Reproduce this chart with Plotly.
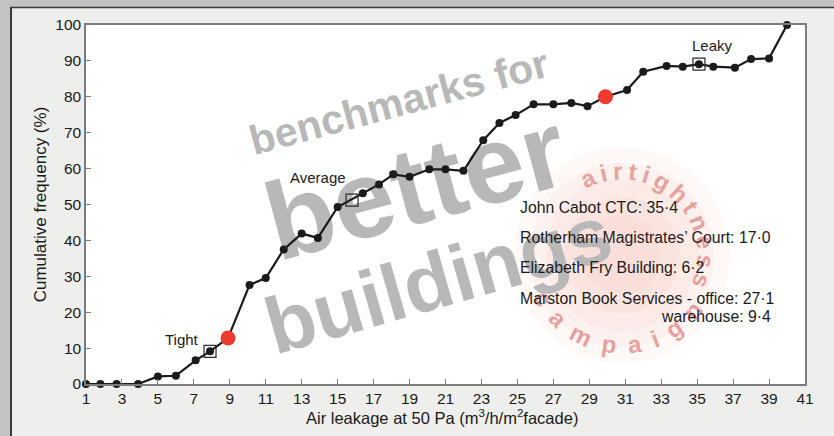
import math
import plotly.graph_objects as go

# ---------------- data ----------------
leak_x = [1, 1.8, 2.7, 3.9, 5, 6, 7.1, 7.9, 8.9, 10.1, 11, 12, 13, 13.9, 15,
          16.4, 17.3, 18.1, 19, 20.1, 21, 22, 23.1, 24, 24.9, 25.9, 27, 28,
          28.9, 29.9, 31.1, 32, 33.3, 34.2, 35.1, 35.9, 37.1, 38, 39, 40]
cum_freq = [0, 0, 0, 0, 2.1, 2.3, 6.6, 9.1, 12.8, 27.6, 29.5, 37.5, 41.9, 40.7, 49.3,
            53.1, 55.6, 58.4, 57.7, 59.8, 59.8, 59.4, 67.9, 72.7, 74.9, 77.9, 77.9, 78.3,
            77.4, 80.0, 81.9, 87.0, 88.6, 88.4, 89.1, 88.4, 88.1, 90.5, 90.7, 100]

bench_labels = ["Tight", "Average", "Leaky"]
bench_x = [7.9, 15.8, 35.1]
bench_y = [9.1, 51.2, 89.1]

highlight_x = [8.9, 29.9]
highlight_y = [12.8, 80.0]

building_names = ["John Cabot CTC", "Rotherham Magistrates\u2019 Court",
                  "Elizabeth Fry Building", "Marston Book Services - office"]
building_values = [35.4, 17.0, 6.2, 27.1]
warehouse_value = 9.4

x_ticks = list(range(1, 42, 2))
y_ticks = list(range(0, 101, 10))

# ---------------- geometry helpers ----------------
W, H = 834, 436
ML, MR, MT, MB = 86, 29, 25, 52
PW, PH = W - ML - MR, H - MT - MB
XR, YR = (1, 41), (0, 100)


def dx(px):
    return XR[0] + (px - ML) / PW * (XR[1] - XR[0])


def dy(py):
    return YR[0] + (H - MB - py) / PH * (YR[1] - YR[0])


def pxp(px):
    return (px - ML) / PW


def pyp(py):
    return (H - MB - py) / PH


def fmt(v):
    return f"{v:.1f}".replace(".", "\u00b7")


TXT = "#1a1a1a"
FONT = "Liberation Sans, Arial, sans-serif"
WM_FONT = "Liberation Sans, Arial, sans-serif"

shapes = []

# frame: outer grey strips and dark border
shapes.append(dict(type="rect", xref="paper", yref="paper", x0=pxp(-10), x1=pxp(10), y0=pyp(460), y1=pyp(-10),
                   fillcolor="#c3c3c3", line=dict(width=0), layer="below"))
shapes.append(dict(type="rect", xref="paper", yref="paper", x0=pxp(-10), x1=pxp(860), y0=pyp(7), y1=pyp(-10),
                   fillcolor="#c3c3c3", line=dict(width=0), layer="below"))
shapes.append(dict(type="line", xref="paper", yref="paper", x0=pxp(11), x1=pxp(11), y0=pyp(7), y1=pyp(460),
                   line=dict(color="#3a3a3a", width=2), layer="below"))
shapes.append(dict(type="line", xref="paper", yref="paper", x0=pxp(10), x1=pxp(860), y0=pyp(7.5), y1=pyp(7.5),
                   line=dict(color="#3a3a3a", width=1.5), layer="below"))

# watermark: pink blob
CX, CY = 622, 255
for r in [108, 92, 76, 58, 40]:
    shapes.append(dict(type="circle", xref="x", yref="y", xsizemode="pixel", ysizemode="pixel",
                       xanchor=dx(CX), yanchor=dy(CY), x0=-r, x1=r, y0=-r, y1=r,
                       fillcolor="rgba(232,130,118,0.055)", line=dict(width=0), layer="below"))


def wm_label(px, py, text, size, color, angle, family=WM_FONT):
    e = 0.001
    return dict(type="rect", xref="x", yref="y", x0=dx(px) - e, x1=dx(px) + e, y0=dy(py) - e, y1=dy(py) + e,
                line=dict(width=0), fillcolor="rgba(0,0,0,0)", layer="below",
                label=dict(text=f"<b>{text}</b>", font=dict(size=size, color=color, family=family),
                           textangle=angle, textposition="middle center"))


WM_GREY = "#b8b8b8"
shapes.append(wm_label(398, 98, "benchmarks for", 41, WM_GREY, -15))
shapes.append(wm_label(413, 175, "better", 110, WM_GREY, -15))
shapes.append(wm_label(436, 272, "buildings", 80, WM_GREY, -16))

# watermark: circular "airtightness campaign" text
letter_w = {"a": .556, "i": .278, "r": .389, "t": .333, "g": .611, "h": .611, "n": .611,
            "e": .556, "s": .556, "c": .556, "m": .889, "p": .611}
PINK = "#e7a19c"


def arc_text(word, th_start, th_end, radius, fs, bottom=False):
    ws = [letter_w[ch] * fs for ch in word]
    gaps = [(ws[i] + ws[i + 1]) / 2 for i in range(len(ws) - 1)]
    total = radius * abs(th_end - th_start) * math.pi / 180
    tr = (total - sum(gaps)) / len(gaps)
    th = th_start
    out = []
    for i, ch in enumerate(word):
        px = CX + radius * math.cos(math.radians(th))
        py = CY - radius * math.sin(math.radians(th))
        ang = -(th + 90) if bottom else 90 - th
        out.append(wm_label(px, py, ch, fs, PINK, ang, family=FONT))
        if i < len(gaps):
            step = (gaps[i] + tr) / radius * 180 / math.pi
            th = th + step if bottom else th - step
    return out


shapes += arc_text("airtightness", 114, -18, 86, 24)
shapes += arc_text("campaign", -151, -38, 88, 24, bottom=True)

# ---------------- figure ----------------
fig = go.Figure()
fig.add_trace(go.Scatter(x=leak_x, y=cum_freq, mode="lines+markers",
                         line=dict(color="#1b1b1b", width=2.2),
                         marker=dict(size=8, color="#1b1b1b"),
                         cliponaxis=False, hoverinfo="skip", showlegend=False))
fig.add_trace(go.Scatter(x=bench_x, y=bench_y, mode="markers",
                         marker=dict(symbol="square-open", size=12, color="#2a2a2a", line=dict(width=1.2)),
                         cliponaxis=False, hoverinfo="skip", showlegend=False))
fig.add_trace(go.Scatter(x=highlight_x, y=highlight_y, mode="markers",
                         marker=dict(size=15, color="#ec3a2f"),
                         cliponaxis=False, hoverinfo="skip", showlegend=False))

annotations = []
label_shift = [(-28, 12), (-34, 23), (14, 19)]
for lab, bx, by, (sx, sy) in zip(bench_labels, bench_x, bench_y, label_shift):
    annotations.append(dict(x=bx, y=by, xref="x", yref="y", text=lab, showarrow=False,
                            xshift=sx, yshift=sy, font=dict(size=15, color=TXT, family=FONT)))

line_py = [207, 237, 267, 298]
for name, val, py in zip(building_names, building_values, line_py):
    annotations.append(dict(x=dx(518), y=dy(py), xref="x", yref="y", text=f"{name}: {fmt(val)}",
                            showarrow=False, xanchor="left", yanchor="middle",
                            font=dict(size=15.8, color=TXT, family=FONT)))
annotations.append(dict(x=dx(773), y=dy(316), xref="x", yref="y", text=f"warehouse: {fmt(warehouse_value)}",
                        showarrow=False, xanchor="right", yanchor="middle",
                        font=dict(size=15.8, color=TXT, family=FONT)))

# x-axis title (placed precisely under the tick labels)
annotations.append(dict(x=pxp(442), y=pyp(417), xref="paper", yref="paper",
                        text="Air leakage at 50 Pa (m<sup>3</sup>/h/m<sup>2</sup>facade)",
                        showarrow=False, xanchor="center", yanchor="middle",
                        font=dict(size=16.5, color=TXT, family=FONT)))

axis_common = dict(showline=True, linecolor="#7c7c7c", linewidth=1.5, mirror=True,
                   ticks="inside", ticklen=5, tickwidth=1.2, tickcolor="#7c7c7c",
                   showgrid=False, zeroline=False,
                   tickfont=dict(size=15.5, color=TXT, family=FONT))

fig.update_layout(
    width=W, height=H,
    margin=dict(l=ML, r=MR, t=MT, b=MB),
    paper_bgcolor="#eeeeec", plot_bgcolor="#ffffff",
    showlegend=False,
    xaxis=dict(range=list(XR), tickvals=x_ticks, ticklabelstandoff=0, **axis_common),
    yaxis=dict(range=list(YR), tickvals=y_ticks,
               title=dict(text="Cumulative frequency (%)",
                          font=dict(size=17, color=TXT, family=FONT), standoff=4),
               **axis_common),
    shapes=shapes,
    annotations=annotations,
)

fig.write_html("out.html", config={"displayModeBar": False},
               post_script="document.body.style.margin='0';document.body.style.overflow='hidden';")
